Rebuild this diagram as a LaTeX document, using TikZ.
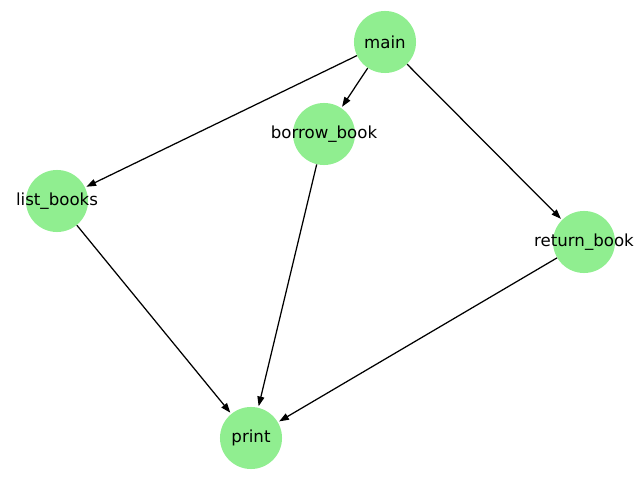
\documentclass[tikz,border=0pt]{standalone}
\usepackage{fontspec}
\setmainfont{DejaVu Sans}
\usetikzlibrary{arrows.meta}
\definecolor{nodegreen}{HTML}{90EE90}
\begin{document}
\begin{tikzpicture}[x=0.01in,y=-0.01in,
  gnode/.style={circle,fill=nodegreen,minimum size=0.62in,inner sep=0pt,
    label={[font=\fontsize{12pt}{14pt}\selectfont,inner sep=0pt]center:#1}},
  edge/.style={-{Triangle[length=7pt,width=5pt]},line width=0.9pt,black,shorten >=1pt}]
\useasboundingbox (0,0) rectangle (640,480);
\node[gnode={main}] (main) at (385,42) {};
\node[gnode={borrow\_book}] (borrow) at (324,134) {};
\node[gnode={list\_books}] (list) at (57,201) {};
\node[gnode={return\_book}] (return) at (584,242) {};
\node[gnode={print}] (print) at (251,438) {};
\draw[edge] (main) -- (borrow);
\draw[edge] (main) -- (list);
\draw[edge] (main) -- (return);
\draw[edge] (borrow) -- (print);
\draw[edge] (list) -- (print);
\draw[edge] (return) -- (print);
\end{tikzpicture}
\end{document}
